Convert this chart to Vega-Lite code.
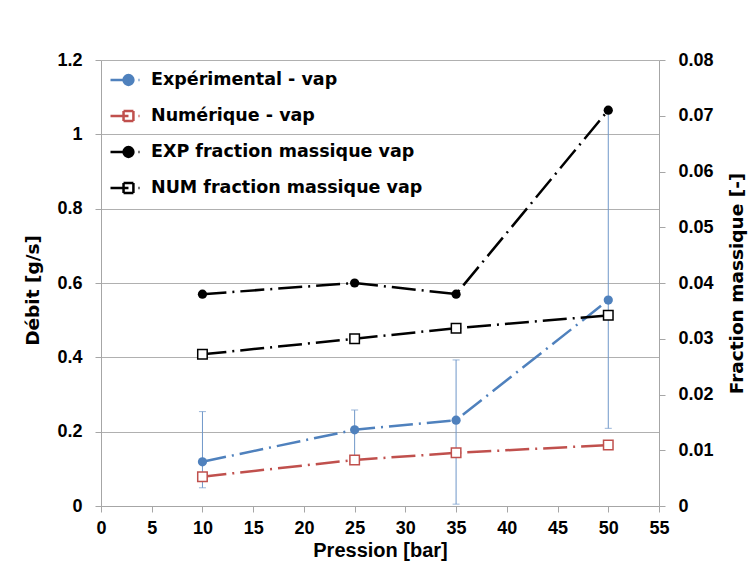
{
  "$schema": "https://vega.github.io/schema/vega-lite/v6.json",
  "width": 558,
  "height": 446,
  "autosize": "none",
  "padding": {"left": 101, "top": 60, "right": 91, "bottom": 65},
  "background": "white",
  "config": {
    "view": {"stroke": null},
    "axis": {
      "labelFont": "Liberation Sans", "labelFontWeight": "bold", "labelFontSize": 18, "labelColor": "black",
      "titleFont": "DejaVu Sans", "titleFontWeight": "bold", "titleFontSize": 18.5, "titleColor": "black",
      "domainColor": "#a6a6a6", "tickColor": "#a6a6a6", "tickSize": 6, "labelPadding": 12, "gridColor": "#b0b0b0"
    }
  },
  "data": {
    "values": [
      {"pression": 10, "series": "Expérimental - vap", "axe": "g", "value": 0.119, "lo": 0.049, "hi": 0.254},
      {"pression": 25, "series": "Expérimental - vap", "axe": "g", "value": 0.205, "lo": 0.13, "hi": 0.258},
      {"pression": 35, "series": "Expérimental - vap", "axe": "g", "value": 0.231, "lo": 0.005, "hi": 0.393},
      {"pression": 50, "series": "Expérimental - vap", "axe": "g", "value": 0.554, "lo": 0.209, "hi": 1.065},
      {"pression": 10, "series": "Numérique - vap", "axe": "g", "value": 0.079},
      {"pression": 25, "series": "Numérique - vap", "axe": "g", "value": 0.124},
      {"pression": 35, "series": "Numérique - vap", "axe": "g", "value": 0.143},
      {"pression": 50, "series": "Numérique - vap", "axe": "g", "value": 0.164},
      {"pression": 10, "series": "EXP fraction massique vap", "axe": "d", "value": 0.038},
      {"pression": 25, "series": "EXP fraction massique vap", "axe": "d", "value": 0.040},
      {"pression": 35, "series": "EXP fraction massique vap", "axe": "d", "value": 0.038},
      {"pression": 50, "series": "EXP fraction massique vap", "axe": "d", "value": 0.071},
      {"pression": 10, "series": "NUM fraction massique vap", "axe": "d", "value": 0.0272},
      {"pression": 25, "series": "NUM fraction massique vap", "axe": "d", "value": 0.030},
      {"pression": 35, "series": "NUM fraction massique vap", "axe": "d", "value": 0.0319},
      {"pression": 50, "series": "NUM fraction massique vap", "axe": "d", "value": 0.0342}
    ]
  },
  "encoding": {
    "x": {
      "field": "pression", "type": "quantitative",
      "scale": {"domain": [0, 55], "nice": false, "zero": false},
      "axis": {"values": [0, 5, 10, 15, 20, 25, 30, 35, 40, 45, 50, 55], "title": "Pression [bar]", "titleFont": "Liberation Sans", "titleFontSize": 20, "grid": false, "labelFlush": false, "labelOverlap": false, "titlePadding": 3, "labelPadding": 7}
    }
  },
  "layer": [
    {
      "transform": [{"filter": "isValid(datum.lo)"}],
      "mark": {"type": "rule", "color": "#6f97c9", "strokeWidth": 1},
      "encoding": {
        "y": {
          "field": "lo", "type": "quantitative",
          "scale": {"domain": [0, 1.2], "nice": false, "zero": true},
          "axis": {"orient": "left", "title": "Débit [g/s]", "values": [0, 0.2, 0.4, 0.6, 0.8, 1, 1.2], "grid": true, "labelExpr": "format(datum.value, '.1~f')", "titlePadding": 14, "labelPadding": 13, "titleY": 230}
        },
        "y2": {"field": "hi"}
      }
    },
    {
      "transform": [{"filter": "isValid(datum.lo)"}],
      "mark": {"type": "tick", "orient": "horizontal", "color": "#6f97c9", "size": 7, "thickness": 1},
      "encoding": {
        "y": {"field": "lo", "type": "quantitative", "scale": {"domain": [0, 1.2], "nice": false}, "axis": null}
      }
    },
    {
      "transform": [{"filter": "isValid(datum.hi)"}],
      "mark": {"type": "tick", "orient": "horizontal", "color": "#6f97c9", "size": 7, "thickness": 1},
      "encoding": {
        "y": {"field": "hi", "type": "quantitative", "scale": {"domain": [0, 1.2], "nice": false}, "axis": null}
      }
    },
    {
      "transform": [{"filter": "datum.axe == 'g'"}],
      "mark": {"type": "line", "strokeWidth": 2.5, "strokeDash": [24, 6, 2, 6]},
      "encoding": {
        "y": {"field": "value", "type": "quantitative", "scale": {"domain": [0, 1.2], "nice": false}, "axis": null},
        "color": {
          "field": "series", "type": "nominal",
          "scale": {"domain": ["Expérimental - vap", "Numérique - vap", "EXP fraction massique vap", "NUM fraction massique vap"], "range": ["#4F81BD", "#C0504D", "#000000", "#000000"]},
          "legend": {
            "title": null, "orient": "none", "legendX": 8, "legendY": 4, "padding": 0,
            "symbolSize": 841, "symbolStrokeWidth": 2.5, "symbolOpacity": 1,
            "labelFont": "DejaVu Sans", "labelFontWeight": "bold", "labelFontSize": 17.5, "labelColor": "black",
            "labelOffset": 10, "rowPadding": 10, "labelLimit": 400,
            "encode": {
              "symbols": {
                "update": {
                  "shape": {"signal": "indexof(['Expérimental - vap','EXP fraction massique vap'], datum.value) >= 0 ? 'M-1,0H0.24M0.58,0A0.34,0.34 0 1,1 -0.1,0A0.34,0.34 0 1,1 0.58,0ZM0.93,0H1' : 'M-1,0H0.24M-0.1,-0.34H0.58M0.58,-0.34V0.34M0.58,0.34H-0.1M-0.1,0.34V-0.34M0.93,0H1'"},
                  "stroke": {"signal": "datum.value == 'Expérimental - vap' ? '#4F81BD' : datum.value == 'Numérique - vap' ? '#C0504D' : 'black'"},
                  "strokeDash": {"value": []},
                  "opacity": {"value": 1}
                }
              }
            }
          }
        }
      }
    },
    {
      "transform": [{"filter": "datum.series == 'Expérimental - vap'"}],
      "mark": {"type": "point", "shape": "circle", "filled": true, "size": 85, "opacity": 1},
      "encoding": {
        "y": {"field": "value", "type": "quantitative", "scale": {"domain": [0, 1.2], "nice": false}, "axis": null},
        "color": {"field": "series", "type": "nominal", "legend": null}
      }
    },
    {
      "transform": [{"filter": "datum.series == 'Numérique - vap'"}],
      "mark": {"type": "point", "shape": "square", "filled": false, "fill": "white", "fillOpacity": 1, "strokeWidth": 1.5, "size": 90, "opacity": 1},
      "encoding": {
        "y": {"field": "value", "type": "quantitative", "scale": {"domain": [0, 1.2], "nice": false}, "axis": null},
        "color": {"field": "series", "type": "nominal", "legend": null}
      }
    },
    {
      "transform": [{"filter": "datum.axe == 'd'"}],
      "mark": {"type": "line", "strokeWidth": 2.5, "strokeDash": [24, 6, 2, 6]},
      "encoding": {
        "y": {
          "field": "value", "type": "quantitative",
          "scale": {"domain": [0, 0.08], "nice": false, "zero": true},
          "axis": {"orient": "right", "title": "Fraction massique [-]", "values": [0, 0.01, 0.02, 0.03, 0.04, 0.05, 0.06, 0.07, 0.08], "grid": false, "labelExpr": "format(datum.value, '.2~f')", "titleAngle": 270, "titleBaseline": "top", "titlePadding": 14, "labelPadding": 13}
        },
        "color": {"field": "series", "type": "nominal", "legend": null}
      }
    },
    {
      "transform": [{"filter": "datum.series == 'EXP fraction massique vap'"}],
      "mark": {"type": "point", "shape": "circle", "filled": true, "size": 85, "opacity": 1},
      "encoding": {
        "y": {"field": "value", "type": "quantitative", "scale": {"domain": [0, 0.08], "nice": false}, "axis": null},
        "color": {"field": "series", "type": "nominal", "legend": null}
      }
    },
    {
      "transform": [{"filter": "datum.series == 'NUM fraction massique vap'"}],
      "mark": {"type": "point", "shape": "square", "filled": false, "fill": "white", "fillOpacity": 1, "strokeWidth": 1.5, "size": 90, "opacity": 1},
      "encoding": {
        "y": {"field": "value", "type": "quantitative", "scale": {"domain": [0, 0.08], "nice": false}, "axis": null},
        "color": {"field": "series", "type": "nominal", "legend": null}
      }
    }
  ],
  "resolve": {"scale": {"y": "independent"}}
}
